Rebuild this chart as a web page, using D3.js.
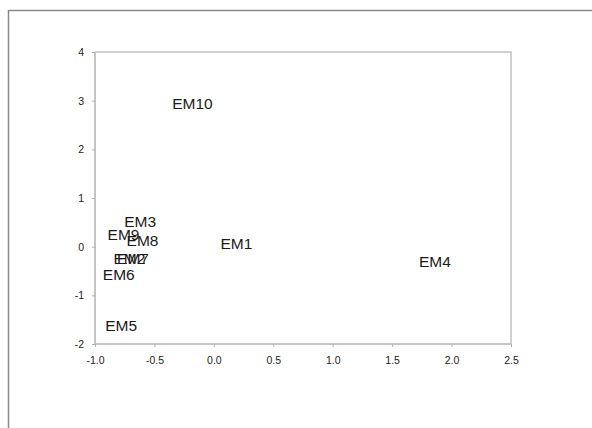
<!DOCTYPE html>
<html>
<head>
<meta charset="utf-8">
<script src="https://cdn.jsdelivr.net/npm/d3@7/dist/d3.min.js"></script>
<style>
  html, body { margin: 0; padding: 0; background: #fff; }
  svg { display: block; font-family: "Liberation Sans", Arial, sans-serif; }
</style>
</head>
<body>
<svg id="chart" width="592" height="428"></svg>
<script>
// Point labels and their coordinates
const labels = ["EM1", "EM2", "EM3", "EM4", "EM5", "EM6", "EM7", "EM8", "EM9", "EM10"];
const xValues = [0.19, -0.71, -0.62, 1.86, -0.78, -0.80, -0.68, -0.60, -0.76, -0.18];
const yValues = [0.06, -0.24, 0.51, -0.31, -1.62, -0.56, -0.24, 0.12, 0.25, 2.94];

// Axis ticks
const xTicks = [-1.0, -0.5, 0.0, 0.5, 1.0, 1.5, 2.0, 2.5];
const yTicks = [-2, -1, 0, 1, 2, 3, 4];

const svg = d3.select("#chart");
const W = 592, H = 428;
const plot = { left: 95, top: 52, right: 511, bottom: 344 };

// Outer frame (runs off the right and bottom edges)
svg.append("path")
  .attr("d", `M8.5,${H} L8.5,10.5 L${W},10.5`)
  .attr("fill", "none")
  .attr("stroke", "#8a8a8a")
  .attr("stroke-width", 1.5);

const x = d3.scaleLinear().domain([-1, 2.5]).range([plot.left, plot.right]);
const y = d3.scaleLinear().domain([-2, 4]).range([plot.bottom, plot.top]);

// Plot-area border (top and right)
svg.append("path")
  .attr("d", `M${plot.left},${plot.top} L${plot.right},${plot.top} L${plot.right},${plot.bottom}`)
  .attr("fill", "none")
  .attr("stroke", "#d0d0d0")
  .attr("stroke-width", 2);

// Plain hyphen for negative numbers
const hyphen = f => d => f(d).replace("\u2212", "-");

// Axes
const xAxis = d3.axisBottom(x).tickValues(xTicks).tickFormat(hyphen(d3.format(".1f"))).tickSize(3).tickPadding(10);
const yAxis = d3.axisLeft(y).tickValues(yTicks).tickFormat(hyphen(d3.format("d"))).tickSize(3).tickPadding(8);

const gx = svg.append("g").attr("transform", `translate(0,${plot.bottom})`).call(xAxis);
const gy = svg.append("g").attr("transform", `translate(${plot.left},0)`).call(yAxis);

[gx, gy].forEach(g => {
  g.select(".domain").attr("stroke", "#c4c4c4").attr("stroke-width", 2);
  g.selectAll(".tick line").attr("stroke", "#b0b0b0").attr("stroke-width", 1);
  g.selectAll(".tick text")
    .attr("fill", "#222")
    .style("font-size", "10.5px")
    .style("font-family", "'Liberation Sans', Arial, sans-serif");
});
gx.select(".domain").attr("d", `M${plot.left},0H${plot.right}`);
gy.select(".domain").attr("d", `M0,${plot.bottom}V${plot.top}`);

// Point labels, centred on their points
const points = labels.map((name, i) => ({ name, x: xValues[i], y: yValues[i] }));
svg.append("g")
  .selectAll("text")
  .data(points)
  .join("text")
  .attr("x", d => x(d.x))
  .attr("y", d => y(d.y))
  .attr("dy", "0.36em")
  .attr("text-anchor", "middle")
  .attr("fill", "#1a1a1a")
  .style("font-size", "15.5px")
  .text(d => d.name);
</script>
</body>
</html>
